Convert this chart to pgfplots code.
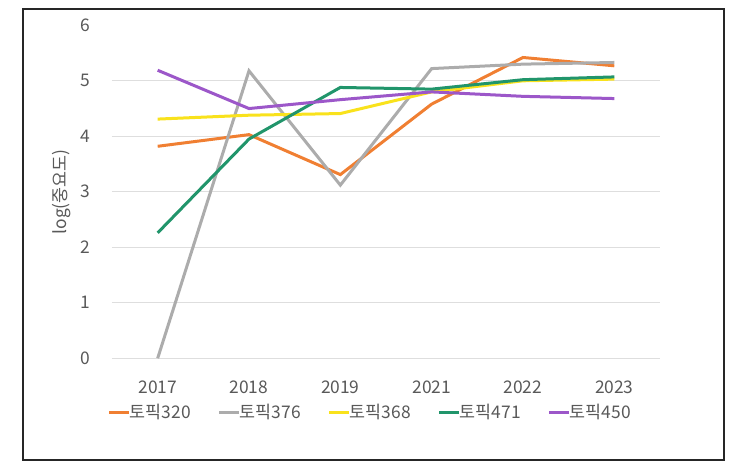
\documentclass[border=0pt]{standalone}
\usepackage{fontspec}
\setmainfont{Noto Sans CJK KR}
\usepackage{pgfplots}
\pgfplotsset{compat=1.18}
\definecolor{c320}{HTML}{F07F32}
\definecolor{c376}{HTML}{ACACAC}
\definecolor{c368}{HTML}{F9E21C}
\definecolor{c471}{HTML}{21956B}
\definecolor{c450}{HTML}{9C57C9}
\definecolor{txt}{HTML}{595959}
\definecolor{gridc}{HTML}{DEDEDE}
\begin{document}
\begin{tikzpicture}
\path[use as bounding box] (0pt,0pt) rectangle (370.5pt,232.5pt);
\draw[line width=1pt, color=black!85] (11.5pt,2.5pt) rectangle (361.75pt,228pt);
\begin{axis}[
  at={(56pt,53.35pt)}, anchor=south west,
  scale only axis, width=274pt, height=166.5pt,
  xmin=-0.5, xmax=5.5, ymin=0, ymax=6,
  xtick={0,1,2,3,4,5},
  xticklabels={2017,2018,2019,2021,2022,2023},
  ytick={0,1,2,3,4,5},
  extra y ticks={6},
  extra y tick style={grid=none},
  ymajorgrids, grid style={color=gridc, line width=0.6pt},
  axis line style={draw=none},
  tick style={draw=none},
  /pgf/number format/assume math mode=true,
  tick label style={font=\fontsize{8.7}{10}\selectfont, color=txt},
  yticklabel style={anchor=east, inner sep=0pt, xshift=-10.5pt},
  xticklabel style={anchor=north, inner sep=0pt, yshift=-11pt},
  ylabel={log(중요도)},
  ylabel style={at={(axis description cs:-0.0912,0.5)}, anchor=center, font=\fontsize{8.7}{10}\selectfont, color=txt},
  legend columns=5,
  legend style={at={(axis description cs:0.473,0)}, anchor=center, yshift=-27.2pt, draw=none, fill=none,
    font=\fontsize{8.7}{10}\selectfont, text=txt,
    /tikz/every odd column/.append style={column sep=-2.5pt},
    /tikz/every even column/.append style={column sep=11.5pt}},
  legend image code/.code={\draw[#1, line width=1.5pt] (0pt,0pt) -- (10pt,0pt);},
  every axis plot/.append style={line width=1.5pt, mark=none},
]
\addplot[c320] coordinates {(0,3.82) (1,4.03) (2,3.31) (3,4.58) (4,5.42) (5,5.27)};
\addlegendentry{토픽320}
\addplot[c376] coordinates {(0,0) (1,5.18) (2,3.12) (3,5.22) (4,5.30) (5,5.33)};
\addlegendentry{토픽376}
\addplot[c368] coordinates {(0,4.31) (1,4.38) (2,4.41) (3,4.80) (4,5.00) (5,5.03)};
\addlegendentry{토픽368}
\addplot[c471] coordinates {(0,2.26) (1,3.95) (2,4.88) (3,4.85) (4,5.02) (5,5.07)};
\addlegendentry{토픽471}
\addplot[c450] coordinates {(0,5.19) (1,4.50) (2,4.66) (3,4.80) (4,4.72) (5,4.68)};
\addlegendentry{토픽450}
\end{axis}
\end{tikzpicture}
\end{document}
